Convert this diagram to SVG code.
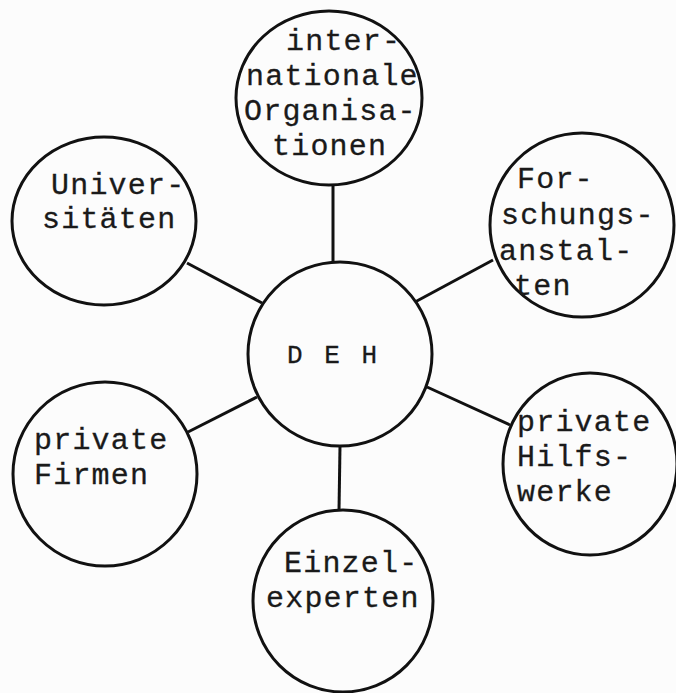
<svg xmlns="http://www.w3.org/2000/svg" width="676" height="693" viewBox="0 0 676 693">
<style>
.c{fill:none;stroke:#111;stroke-width:3}
.l{stroke:#111;stroke-width:3;fill:none}
text{font-family:"Liberation Mono","DejaVu Sans Mono",monospace;font-size:30px;fill:#1a1a1a;letter-spacing:1.2px;stroke:#1a1a1a;stroke-width:0.3}
.d{font-size:26px;letter-spacing:3px}
</style>
<rect width="676" height="693" fill="#fcfcfc"/>
<g id="connectors">
<line class="l" x1="333" y1="185" x2="333" y2="262"/>
<line class="l" x1="187" y1="263" x2="262" y2="303"/>
<line class="l" x1="415" y1="302" x2="493" y2="260"/>
<line class="l" x1="188" y1="432" x2="257" y2="397"/>
<line class="l" x1="427" y1="387" x2="510" y2="425"/>
<line class="l" x1="340" y1="446" x2="339" y2="511"/>
</g>
<g id="node-internationale">
<ellipse class="c" cx="329" cy="98" rx="93" ry="87"/>
<text x="286" y="50">inter-</text>
<text x="246" y="85">nationale</text>
<text x="244" y="120">Organisa-</text>
<text x="272" y="155">tionen</text>
</g>
<g id="node-universitaeten">
<ellipse class="c" cx="104" cy="221" rx="92" ry="84"/>
<text x="51" y="194">Univer-</text>
<text x="42" y="228">sitäten</text>
</g>
<g id="node-forschung">
<ellipse class="c" cx="582" cy="225" rx="92" ry="92"/>
<text x="517" y="188">For-</text>
<text x="501" y="224">schungs-</text>
<text x="499" y="260">anstal-</text>
<text x="514" y="295">ten</text>
</g>
<g id="node-deh">
<ellipse class="c" cx="340" cy="354" rx="92" ry="92"/>
<text class="d" x="287" y="363">D E H</text>
</g>
<g id="node-firmen">
<ellipse class="c" cx="105" cy="474" rx="92" ry="92"/>
<text x="34" y="449">private</text>
<text x="34" y="484">Firmen</text>
</g>
<g id="node-hilfswerke">
<ellipse class="c" cx="590" cy="464" rx="87" ry="91"/>
<text x="517" y="431">private</text>
<text x="517" y="466">Hilfs-</text>
<text x="517" y="501">werke</text>
</g>
<g id="node-einzelexperten">
<ellipse class="c" cx="343" cy="601" rx="90" ry="91"/>
<text x="284" y="572">Einzel-</text>
<text x="266" y="607">experten</text>
</g>
</svg>
